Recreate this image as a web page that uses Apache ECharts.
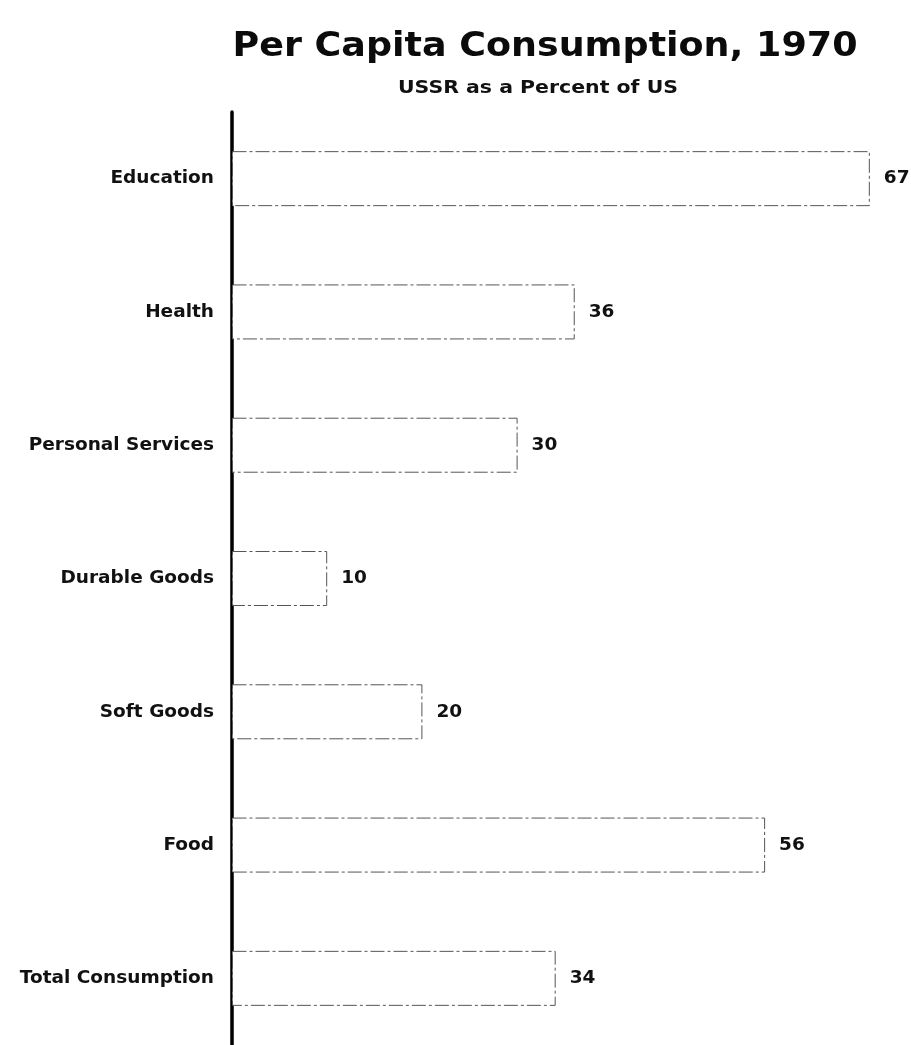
<!DOCTYPE html>
<html>
<head>
<meta charset="utf-8">
<style>
  html, body { margin: 0; padding: 0; background: #fff; }
  #chart { width: 911px; height: 1045px; }
</style>
<script src="https://cdn.jsdelivr.net/npm/echarts@6/dist/echarts.min.js"></script>
</head>
<body>
<div id="chart"></div>
<script>
// Per capita consumption, USSR as a percent of US (1970)
const categories = [
  'Education',
  'Health',
  'Personal Services',
  'Durable Goods',
  'Soft Goods',
  'Food',
  'Total Consumption'
];
const percentOfUS = [67, 36, 30, 10, 20, 56, 34];

const titleText = 'Per Capita Consumption, 1970';
const subtitleText = 'USSR as a Percent of US';

const FONT = '"DejaVu Sans", "Liberation Sans", sans-serif';

// Horizontal stretch factor so a heading fills a given width (extended display face)
function stretchFor(text, font, targetWidth) {
  const ctx = document.createElement('canvas').getContext('2d');
  ctx.font = font;
  const w = ctx.measureText(text).width;
  return w > 0 ? targetWidth / w : 1;
}

const titleFont = 'bold 34px ' + FONT;
const subtitleFont = 'bold 18px ' + FONT;
const titleScale = stretchFor(titleText, titleFont, 625);
const subtitleScale = stretchFor(subtitleText, subtitleFont, 280);

const chart = echarts.init(document.getElementById('chart'), null, { renderer: 'canvas' });

chart.setOption({
  backgroundColor: '#ffffff',
  animation: false,
  graphic: [
    {
      type: 'text',
      x: 545,
      y: 47,
      scaleX: titleScale,
      style: {
        text: titleText,
        x: 0,
        y: 0,
        align: 'center',
        verticalAlign: 'middle',
        font: titleFont,
        fill: '#0b0b0b'
      }
    },
    {
      type: 'text',
      x: 538,
      y: 88,
      scaleX: subtitleScale,
      style: {
        text: subtitleText,
        x: 0,
        y: 0,
        align: 'center',
        verticalAlign: 'middle',
        font: subtitleFont,
        fill: '#111'
      }
    }
  ],
  grid: {
    left: 232,
    top: 112,
    height: 935,
    right: 12.6,
    containLabel: false
  },
  xAxis: {
    type: 'value',
    min: 0,
    max: 70,
    show: false
  },
  yAxis: {
    type: 'category',
    data: categories,
    inverse: true,
    axisLine: { show: true, lineStyle: { color: '#000', width: 3.5 } },
    axisTick: { show: false },
    splitLine: { show: false },
    axisLabel: {
      margin: 18,
      fontFamily: FONT,
      fontWeight: 'bold',
      fontSize: 18.5,
      color: '#111'
    }
  },
  series: [
    {
      type: 'bar',
      data: percentOfUS,
      barWidth: 55,
      itemStyle: {
        color: '#ffffff',
        borderColor: '#555',
        borderWidth: 1,
        borderType: [14, 3, 3, 3]
      },
      label: {
        show: true,
        position: 'right',
        distance: 14,
        fontFamily: FONT,
        fontWeight: 'bold',
        fontSize: 18.5,
        color: '#111'
      }
    }
  ]
});
</script>
</body>
</html>
